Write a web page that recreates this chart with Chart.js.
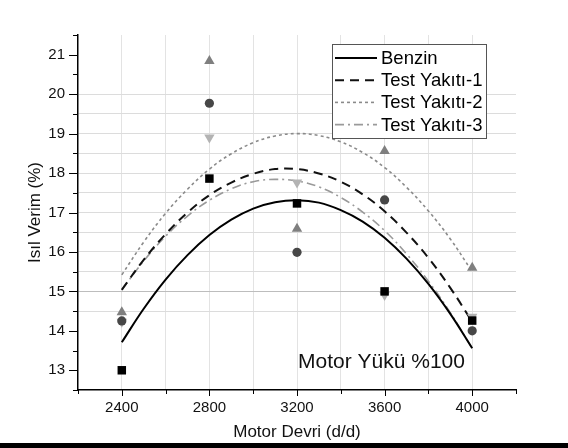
<!DOCTYPE html>
<html>
<head>
<meta charset="utf-8">
<script src="https://cdn.jsdelivr.net/npm/chart.js@4.4.1/dist/chart.umd.min.js"></script>
<style>
    html, body { margin: 0; padding: 0; background: #000; }
    #wrap { width: 568px; height: 443px; background: #fff; }
</style>
</head>
<body>
<div id="wrap"><canvas id="chart" width="568" height="443"></canvas></div>
<script>
// measured points
const rpm = [2400, 2800, 3200, 3600, 4000];
const benzin = [13.0, 17.86, 17.23, 15.0, 14.26];
const yakit1 = [14.25, 19.77, 15.99, 17.32, 14.0];
const yakit2 = [14.47, 20.84, 16.59, 18.56, 15.6];
const yakit3 = [14.23, 18.9, 17.76, 14.91, 14.36];

// fit curves every 100 d/d
const fitRpm = [2400, 2500, 2600, 2700, 2800, 2900, 3000, 3100, 3200, 3300, 3400, 3500, 3600, 3700, 3800, 3900, 4000];
const benzinFit = [13.71, 14.56, 15.30, 15.92, 16.43, 16.82, 17.10, 17.26, 17.31, 17.25, 17.06, 16.77, 16.36, 15.83, 15.19, 14.43, 13.56];
const yakit1Fit = [15.04, 15.80, 16.45, 17.00, 17.44, 17.76, 17.98, 18.10, 18.10, 17.99, 17.78, 17.46, 17.03, 16.49, 15.85, 15.09, 14.23];
const yakit2Fit = [15.42, 16.25, 16.98, 17.59, 18.10, 18.49, 18.77, 18.94, 19.00, 18.95, 18.79, 18.52, 18.14, 17.64, 17.04, 16.33, 15.50];
const yakit3Fit = [15.04, 15.77, 16.40, 16.91, 17.31, 17.60, 17.78, 17.84, 17.80, 17.65, 17.38, 17.01, 16.54, 15.95, 15.26, 14.46, 13.55];

const labels = ['Benzin', 'Test Yakıtı-1', 'Test Yakıtı-2', 'Test Yakıtı-3'];
const xMin = 2200, xMax = 4200, yMin = 12.5, yMax = 21.5;
const FONT = '"Liberation Sans", Arial, sans-serif';

const pts = (xs, ys) => xs.map((v, i) => ({ x: v, y: ys[i] }));

const markerSet = (data, style, color, radius, rotation) => ({
    data: pts(rpm, data),
    pointStyle: style,
    pointRadius: radius,
    pointRotation: rotation || 0,
    backgroundColor: color,
    borderColor: color,
    borderWidth: 0,
    showLine: false,
    inLegend: false
});

const lineSet = (label, data, color, width, dash) => ({
    label: label,
    data: pts(fitRpm, data),
    showLine: true,
    pointRadius: 0,
    borderColor: color,
    borderWidth: width,
    borderDash: dash,
    tension: 0.4,
    fill: false,
    inLegend: true
});

const extras = {
    id: 'extras',
    afterDraw(chart) {
        const ctx = chart.ctx;
        const x = chart.scales.x, y = chart.scales.y;
        ctx.save();
        ctx.strokeStyle = '#000';
        ctx.lineWidth = 1;
        // y ticks, major and minor
        for (let v = yMin; v <= yMax + 0.001; v += 0.5) {
            const py = Math.round(y.getPixelForValue(v)) + 0.5;
            const len = Number.isInteger(v) ? 9 : 5;
            ctx.beginPath();
            ctx.moveTo(x.left - len, py);
            ctx.lineTo(x.left, py);
            ctx.stroke();
        }
        // x ticks
        for (let v = xMin; v <= xMax; v += 200) {
            const px = Math.round(x.getPixelForValue(v)) + 0.5;
            const len = v % 400 === 0 ? 6 : 4;
            ctx.beginPath();
            ctx.moveTo(px, y.bottom);
            ctx.lineTo(px, y.bottom + len);
            ctx.stroke();
        }

        // legend box
        const bx = 332, by = 44, bw = 154, bh = 94;
        ctx.fillStyle = '#fff';
        ctx.fillRect(bx, by, bw, bh);
        ctx.strokeStyle = '#555';
        ctx.lineWidth = 1;
        ctx.strokeRect(bx + 0.5, by + 0.5, bw, bh);
        const lines = chart.data.datasets.filter(d => d.inLegend);
        ctx.font = '18.5px ' + FONT;
        ctx.textBaseline = 'middle';
        lines.forEach((d, i) => {
            const ly = 58 + i * 22.2;
            ctx.strokeStyle = d.borderColor;
            ctx.lineWidth = d.borderWidth;
            ctx.setLineDash(d.borderDash || []);
            ctx.beginPath();
            ctx.moveTo(335, ly);
            ctx.lineTo(377, ly);
            ctx.stroke();
            ctx.setLineDash([]);
            ctx.fillStyle = '#000';
            ctx.fillText(d.label, 381, ly + 1);
        });

        // load note
        ctx.font = '21px ' + FONT;
        ctx.textBaseline = 'alphabetic';
        ctx.fillStyle = '#111';
        ctx.fillText('Motor Yükü %100', 298, 368);
        ctx.restore();
    }
};

const ctx = document.getElementById('chart').getContext('2d');
// eslint-disable-next-line no-undef
new Chart(ctx, {
    type: 'scatter',
    data: {
        datasets: [
            markerSet(benzin, 'rect', '#000', 6),
            markerSet(yakit1, 'circle', '#474747', 4.6),
            markerSet(yakit2, 'triangle', '#7f7f7f', 6),
            markerSet(yakit3, 'triangle', '#b3b3b3', 6, 180),
            lineSet(labels[0], benzinFit, '#000', 2, []),
            lineSet(labels[1], yakit1Fit, '#111', 2, [9, 6]),
            lineSet(labels[2], yakit2Fit, '#8a8a8a', 1.6, [3, 3]),
            lineSet(labels[3], yakit3Fit, '#9a9a9a', 1.6, [9, 4, 2, 4])
        ]
    },
    options: {
        responsive: false,
        animation: false,
        devicePixelRatio: 1,
        layout: { padding: { top: 35, right: 52, left: 25, bottom: 0 } },
        plugins: { legend: { display: false }, tooltip: { enabled: false } },
        scales: {
            x: {
                type: 'linear',
                min: xMin,
                max: xMax,
                afterFit: (s) => { s.height = 53; },
                ticks: {
                    stepSize: 200,
                    autoSkip: false,
                    maxRotation: 0,
                    padding: 9,
                    color: '#111',
                    font: { family: FONT, size: 15 },
                    callback: (v) => (v % 400 === 0 ? v : '')
                },
                grid: {
                    drawTicks: false,
                    lineWidth: 1,
                    color: (c) => (c.tick && (c.tick.value === xMin || c.tick.value === xMax) ? 'rgba(0,0,0,0)' : '#e3e3e3')
                },
                border: { color: '#000', width: 1.5 },
                title: {
                    display: true,
                    text: 'Motor Devri (d/d)',
                    color: '#111',
                    padding: 0,
                    font: { family: FONT, size: 17 }
                }
            },
            y: {
                min: yMin,
                max: yMax,
                afterFit: (s) => { s.width = 53; },
                ticks: {
                    stepSize: 0.5,
                    autoSkip: false,
                    padding: 13,
                    color: '#111',
                    font: { family: FONT, size: 15 },
                    callback: (v) => (Number.isInteger(v) ? v : '')
                },
                grid: {
                    drawTicks: false,
                    lineWidth: 1,
                    color: (c) => {
                        const v = c.tick ? c.tick.value : 0;
                        if (v === 15) return '#bdbdbd';
                        if (v >= 14.5 && v <= 20) return '#dcdcdc';
                        return 'rgba(0,0,0,0)';
                    }
                },
                border: { color: '#000', width: 1.5 },
                title: {
                    display: true,
                    text: 'Isıl Verim (%)',
                    color: '#111',
                    padding: 0,
                    font: { family: FONT, size: 17 }
                }
            }
        }
    },
    plugins: [extras]
});
</script>
</body>
</html>
